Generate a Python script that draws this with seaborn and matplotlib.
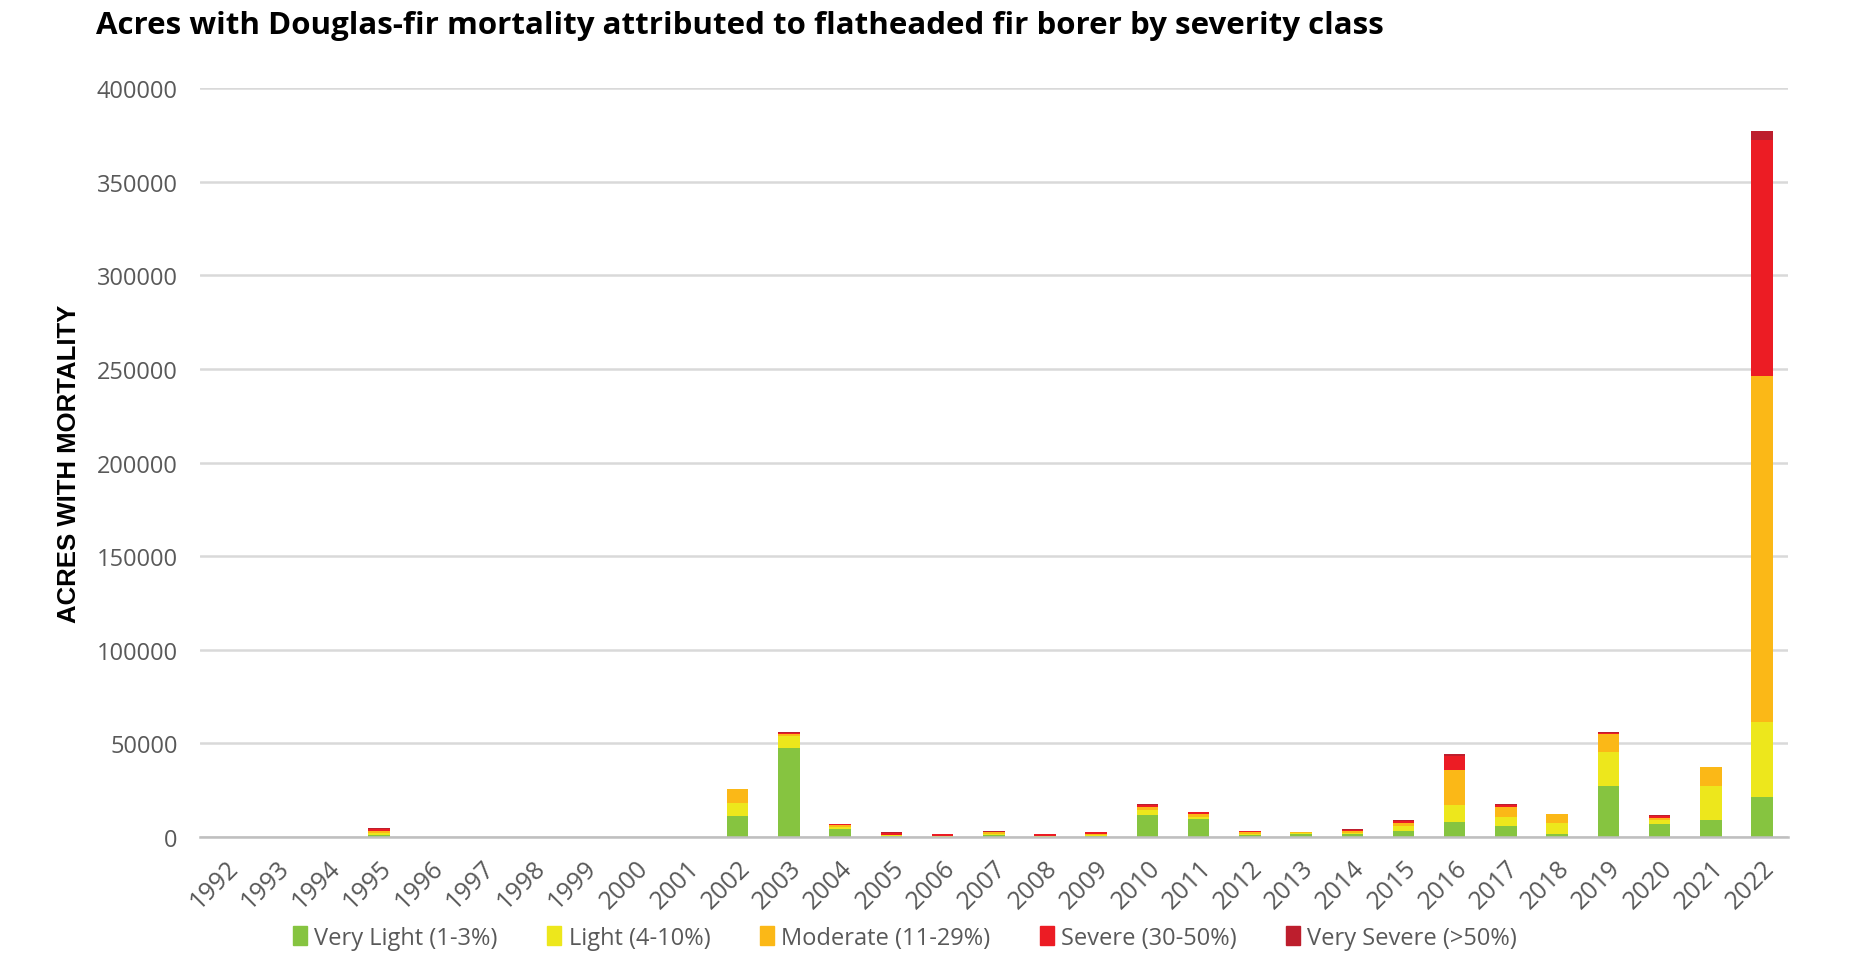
import pandas as pd
import matplotlib
matplotlib.use("Agg")
import matplotlib.pyplot as plt
import matplotlib.patches as mpatches
import seaborn as sns

years = [str(y) for y in range(1992, 2023)]

# acres per severity class
very_light = [0, 0, 0, 1000, 0, 0, 0, 0, 0, 0, 11000, 47400, 4500, 500, 200, 1200, 200, 500,
              11800, 9500, 1000, 1500, 1500, 3400, 8000, 5900, 1400, 27400, 6800, 9300, 21500]
light = [0, 0, 0, 1000, 0, 0, 0, 0, 0, 0, 7000, 6800, 1000, 300, 200, 500, 200, 500,
         2600, 1400, 600, 700, 800, 2500, 9000, 5000, 6100, 18000, 2100, 17800, 40000]
moderate = [0, 0, 0, 1000, 0, 0, 0, 0, 0, 0, 7700, 800, 700, 500, 300, 700, 300, 800,
            1800, 1400, 800, 500, 900, 1800, 18700, 5300, 4600, 9800, 1400, 10500, 184500]
severe = [0, 0, 0, 1500, 0, 0, 0, 0, 0, 0, 0, 800, 500, 1000, 700, 500, 700, 600,
          900, 900, 800, 0, 700, 1000, 7800, 900, 0, 600, 1000, 0, 126000]
very_severe = [0, 0, 0, 500, 0, 0, 0, 0, 0, 0, 0, 200, 100, 200, 100, 100, 100, 100,
               300, 300, 200, 0, 200, 300, 700, 300, 0, 300, 300, 0, 5000]

labels = ["Very Light (1-3%)", "Light (4-10%)", "Moderate (11-29%)",
          "Severe (30-50%)", "Very Severe (>50%)"]
colors = ["#86c440", "#ede71c", "#fbb817", "#ec1c24", "#bd1e2d"]

df = pd.DataFrame({"Year": years, labels[0]: very_light, labels[1]: light,
                   labels[2]: moderate, labels[3]: severe, labels[4]: very_severe})
cum = df[labels].cumsum(axis=1)

sns.set_style("white")
plt.rcParams["font.family"] = ["Open Sans", "DejaVu Sans"]

fig = plt.figure(figsize=(18.74, 9.54), dpi=100)
ax = fig.add_axes([0.1067, 0.1216, 0.8472, 0.7851])

# draw cumulative totals from the top class down so each layer covers the next
for lab, col in zip(labels[::-1], colors[::-1]):
    sns.barplot(x=df["Year"], y=cum[lab], color=col, width=0.42, ax=ax,
                saturation=1, order=years, linewidth=0, edgecolor=col)

ax.set_ylim(0, 400000)
ax.set_yticks(range(0, 400001, 50000))
ax.yaxis.grid(True, color="#d9d9d9", lw=1.8)
ax.set_axisbelow(True)
for s in ["top", "right", "left"]:
    ax.spines[s].set_visible(False)
ax.spines["bottom"].set_color("#bfbfbf")
ax.spines["bottom"].set_linewidth(1.8)
ax.tick_params(axis="both", length=0, colors="#595959", labelsize=17)
ax.tick_params(axis="y", pad=16)
ax.tick_params(axis="x", pad=13, labelsize=18)
plt.setp(ax.get_xticklabels(), rotation=45, ha="right", rotation_mode="anchor")
ax.set_xlabel("")
ax.set_ylabel("ACRES WITH MORTALITY", fontsize=18.5, fontweight="bold", color="black",
              family=["Liberation Sans", "DejaVu Sans"], labelpad=11)

fig.text(0.051, 0.988, "Acres with Douglas-fir mortality attributed to flatheaded fir borer by severity class",
         fontsize=22.5, fontweight="bold", color="black", va="top", ha="left")

handles = [mpatches.Patch(color=c, label=l) for l, c in zip(labels, colors)]
fig.legend(handles=handles, loc="center", bbox_to_anchor=(0.483, 0.016), ncol=5,
           frameon=False, fontsize=17, labelcolor="#595959", handlelength=0.6,
           handleheight=0.8, handletextpad=0.3, columnspacing=2.1)

fig.savefig("out.png", dpi=100)
